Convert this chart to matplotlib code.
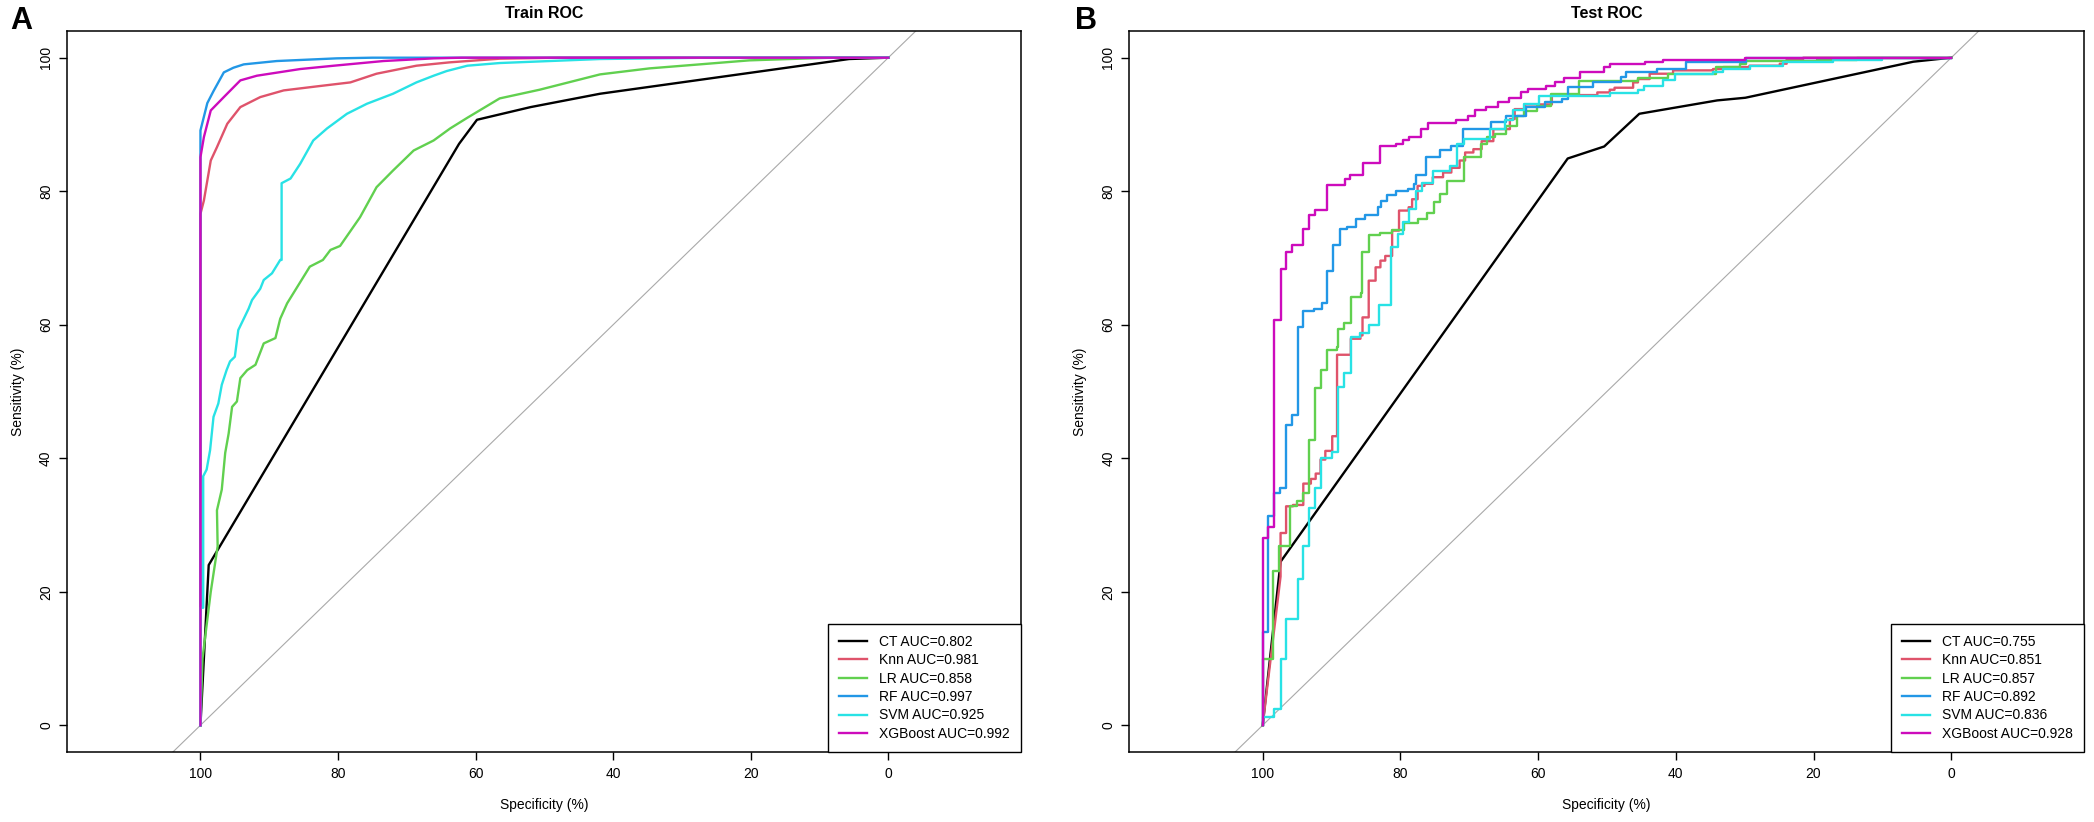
import matplotlib
matplotlib.use('Agg')
import matplotlib.pyplot as plt

plt.rcParams['font.family'] = ['Liberation Sans', 'DejaVu Sans']

# models, colours (R 4 default palette) and AUCs from the legends
models = ['CT', 'Knn', 'LR', 'RF', 'SVM', 'XGBoost']
colors = ['black', '#DF536B', '#61D04F', '#2297E6', '#28E2E5', '#CD0BBC']
train_auc = [0.802, 0.981, 0.858, 0.997, 0.925, 0.992]
test_auc = [0.755, 0.851, 0.857, 0.892, 0.836, 0.928]

# ---- train ROC curves, (specificity %, sensitivity %)
train_ct = [(100, 0), (98.8, 24.0), (62.4, 87.1), (59.8, 90.7), (52.0, 92.6),
            (41.9, 94.6), (5.7, 99.8), (0, 100)]
train_knn = [(100, 0), (100, 76.6), (99.5, 78.6), (98.5, 84.6), (97.6, 86.6),
             (96.1, 90.1), (94.2, 92.6), (91.3, 94.1), (87.9, 95.1), (83.1, 95.7),
             (78.2, 96.3), (74.4, 97.6), (68.6, 98.8), (63.8, 99.3), (56.5, 99.85),
             (48.0, 100), (0, 100)]
train_lr = [(100, 0), (99.7, 10.0), (98.5, 20.0), (97.5, 26.8), (97.6, 32.2),
            (96.9, 35.3), (96.4, 40.8), (95.9, 43.7), (95.4, 47.7), (94.7, 48.5),
            (94.2, 52.0), (93.2, 53.2), (92.0, 54.0), (90.8, 57.2), (89.1, 58.0),
            (88.4, 60.9), (87.4, 63.2), (86.5, 64.7), (85.3, 66.7), (84.1, 68.7),
            (82.2, 69.7), (81.1, 71.2), (79.7, 71.8), (76.8, 76.1), (74.4, 80.6),
            (72.0, 83.1), (69.0, 86.1), (66.1, 87.6), (63.7, 89.4), (61.2, 91.0),
            (56.5, 93.9), (50.7, 95.2), (41.9, 97.5), (34.7, 98.4), (27.4, 99.0),
            (20.2, 99.6), (12.9, 99.85), (8.1, 100), (0, 100)]
train_rf = [(100, 0), (100, 89.1), (99.0, 93.2), (98.1, 95.0), (96.6, 97.8),
            (95.2, 98.5), (93.7, 99.0), (88.9, 99.5), (80.2, 99.9), (75.0, 100),
            (0, 100)]
train_svm = [(100, 0), (100, 17.6), (99.6, 17.6), (99.6, 37.3), (99.1, 38.3),
             (98.6, 41.2), (98.1, 46.2), (97.4, 48.2), (96.9, 51.0), (96.2, 53.2),
             (95.7, 54.5), (95.0, 55.2), (94.5, 59.2), (93.7, 60.9), (93.0, 62.4),
             (92.5, 63.7), (91.3, 65.4), (90.8, 66.7), (89.6, 67.7), (88.4, 69.7),
             (88.2, 69.7), (88.2, 81.2), (86.9, 81.9), (85.5, 84.1), (83.6, 87.6),
             (81.6, 89.4), (78.7, 91.6), (75.8, 93.1), (72.0, 94.6), (68.6, 96.3),
             (66.1, 97.3), (64.2, 98.0), (61.2, 98.8), (56.5, 99.2), (41.9, 99.8),
             (26.0, 100), (0, 100)]
train_xgb = [(100, 0), (100, 85.1), (99.5, 88.1), (98.5, 92.1), (96.6, 94.1),
             (94.2, 96.6), (91.8, 97.3), (85.5, 98.3), (80.6, 98.8), (73.4, 99.5),
             (66.1, 99.9), (62.0, 100), (0, 100)]

# ---- test ROC curves; stepped curves are listed as the top of each vertical run
test_ct = [(100, 0), (97.4, 24.5), (55.7, 84.9), (50.4, 86.7), (45.3, 91.6),
           (34.0, 93.6), (29.9, 94.0), (5.5, 99.4), (0, 100)]
test_knn_lead = [(100, 0)]
test_knn = [(97.4, 22.3), (97.4, 28.8), (96.6, 32.8), (95.6, 33.0), (94.1, 36.2),
            (93.0, 36.9), (92.3, 37.7), (91.6, 39.8), (90.9, 41.1), (89.9, 43.3),
            (89.2, 55.5), (87.2, 57.9), (85.8, 58.4), (85.5, 61.1), (84.6, 66.6),
            (83.6, 68.6), (82.9, 69.6), (82.2, 70.3), (81.2, 74.1), (80.2, 77.1),
            (78.8, 77.6), (78.3, 78.8), (77.5, 80.8), (76.5, 81.1), (75.3, 82.1),
            (73.8, 82.8), (72.6, 83.5), (71.4, 84.6), (70.6, 85.8), (69.4, 86.3),
            (68.2, 87.5), (66.5, 89.3), (64.1, 90.8), (63.4, 92.3), (61.9, 93.0),
            (58.0, 93.5), (58.0, 94.3), (55.7, 94.4), (51.4, 94.8), (49.6, 95.2),
            (48.9, 95.5), (46.2, 96.3), (45.5, 96.8), (43.8, 97.6), (40.4, 98.1),
            (34.6, 98.3), (33.1, 98.6), (29.3, 98.8), (24.9, 99.1), (23.9, 99.8),
            (21.5, 100), (0, 100)]
test_lr = [(100, 0), (100, 9.9), (98.5, 23.1), (97.7, 26.9), (96.0, 27.3),
           (96.0, 32.9), (95.0, 33.6), (94.1, 34.8), (93.3, 42.7), (92.4, 50.5),
           (91.6, 53.2), (90.7, 56.2), (89.2, 56.7), (89.1, 59.4), (88.2, 60.2),
           (87.2, 64.2), (85.7, 64.7), (85.6, 70.9), (84.6, 73.4), (82.9, 73.7),
           (81.2, 74.2), (79.5, 75.2), (77.5, 75.9), (76.1, 76.7), (75.1, 78.4),
           (74.2, 79.6), (73.2, 81.6), (70.8, 85.1), (68.3, 87.1), (67.4, 88.1),
           (66.2, 88.6), (64.7, 89.8), (63.0, 91.3), (62.0, 92.0), (60.1, 92.8),
           (58.1, 93.5), (58.1, 94.5), (54.0, 96.5), (45.5, 97.0), (41.1, 97.6),
           (34.1, 98.6), (30.7, 99.1), (29.8, 99.5), (19.5, 99.6), (13.7, 100),
           (0, 100)]
test_rf = [(100, 0), (100, 13.9), (99.2, 31.3), (98.4, 34.8), (97.5, 35.6),
           (96.6, 45.0), (95.8, 46.5), (94.8, 59.7), (94.1, 62.0), (92.6, 62.4),
           (91.4, 63.2), (90.6, 68.0), (89.8, 71.9), (88.8, 74.4), (87.8, 74.6),
           (86.4, 75.9), (85.2, 76.5), (83.2, 77.6), (82.8, 78.6), (82.0, 79.4),
           (80.6, 80.0), (78.9, 80.4), (78.0, 81.1), (77.7, 82.4), (76.3, 85.1),
           (74.3, 86.1), (72.6, 86.8), (70.9, 89.3), (66.8, 90.3), (64.6, 91.3),
           (61.7, 92.6), (59.0, 93.3), (56.6, 93.8), (55.7, 95.6), (52.0, 96.3),
           (47.9, 97.1), (47.2, 97.8), (42.8, 98.3), (38.5, 99.3), (29.8, 100),
           (0, 100)]
test_svm = [(100, 0), (100, 1.2), (98.3, 2.5), (97.4, 9.9), (96.6, 15.9),
            (94.8, 21.9), (94.1, 26.9), (93.3, 32.6), (92.4, 35.6), (91.6, 40.0),
            (89.9, 41.0), (89.1, 50.7), (88.2, 52.7), (87.2, 58.2), (85.8, 58.7),
            (84.6, 59.9), (83.1, 62.9), (81.4, 71.6), (80.4, 73.6), (79.6, 75.4),
            (78.8, 77.4), (77.8, 80.1), (76.9, 81.3), (75.2, 83.1), (72.8, 83.8),
            (71.8, 87.0), (70.8, 87.8), (67.0, 89.3), (64.8, 90.6), (63.6, 92.1),
            (62.1, 93.0), (59.9, 94.2), (51.5, 94.3), (49.6, 94.7), (45.5, 95.1),
            (44.6, 95.8), (41.9, 96.6), (40.1, 97.6), (34.6, 97.9), (33.1, 98.3),
            (29.3, 98.8), (24.4, 99.3), (17.2, 99.6), (10.0, 100), (0, 100)]
test_xgb = [(100, 0), (100, 28.1), (99.2, 29.7), (98.3, 60.7), (97.4, 68.4),
            (96.6, 70.9), (95.7, 71.9), (94.2, 74.4), (93.2, 76.4), (92.4, 77.2),
            (90.6, 81.0), (88.1, 81.8), (87.3, 82.4), (85.5, 84.2), (83.0, 86.7),
            (80.6, 87.1), (79.6, 87.7), (78.7, 88.1), (77.0, 89.3), (76.0, 90.2),
            (71.9, 90.6), (70.2, 91.3), (69.2, 92.1), (67.5, 92.6), (65.8, 93.3),
            (64.2, 94.0), (62.5, 94.8), (61.5, 95.3), (58.8, 95.8), (57.6, 96.3),
            (56.3, 96.9), (53.9, 97.8), (50.5, 98.6), (49.5, 99.0), (44.5, 99.3),
            (41.8, 99.7), (30.0, 100), (0, 100)]

ticks = [100, 80, 60, 40, 20, 0]


def stairs(points, lead=()):
    # horizontal then vertical between listed corners (ROC staircase)
    xs = [p[0] for p in lead] + [points[0][0]]
    ys = [p[1] for p in lead] + [points[0][1]]
    for (x0, y0), (x1, y1) in zip(points[:-1], points[1:]):
        xs += [x1, x1]
        ys += [y0, y1]
    return xs, ys


def plain(points):
    return [p[0] for p in points], [p[1] for p in points]


def setup_axes(ax, title):
    ax.set_xlim(119.4, -19.3)
    ax.set_ylim(-4, 104)
    ax.plot([125, -25], [-25, 125], color='#A9A9A9', lw=0.8, zorder=1)
    ax.set_xticks(ticks)
    ax.set_xticklabels([str(t) for t in ticks])
    ax.set_yticks(ticks)
    ax.set_yticklabels([str(t) for t in ticks], rotation=90, va='center')
    ax.tick_params(direction='out', length=6, width=1, labelsize=10, pad=5)
    ax.tick_params(axis='y', pad=4)
    for s in ax.spines.values():
        s.set_linewidth(1.1)
    ax.set_xlabel('Specificity (%)', fontsize=10, labelpad=12)
    ax.set_ylabel('Sensitivity (%)', fontsize=10, labelpad=10)
    ax.set_title(title, fontsize=11.5, fontweight='bold', pad=9)


def add_legend(ax, handles, aucs):
    leg = ax.legend(handles, [f'{m} AUC={a:.3f}' for m, a in zip(models, aucs)],
                    loc='lower right', borderaxespad=0, fontsize=10,
                    fancybox=False, framealpha=1, edgecolor='black',
                    handlelength=2.0, handletextpad=0.9, labelspacing=0.32,
                    borderpad=0.8)
    leg.get_frame().set_linewidth(1.0)


fig = plt.figure(figsize=(20.94, 8.22), dpi=100)
ax_a = fig.add_axes([0.0320, 0.0852, 0.4556, 0.8771])
ax_b = fig.add_axes([0.5392, 0.0852, 0.4561, 0.8771])

setup_axes(ax_a, 'Train ROC')
lines_a = []
for pts, c in zip([train_ct, train_knn, train_lr, train_rf, train_svm, train_xgb], colors):
    xs, ys = plain(pts)
    lines_a += ax_a.plot(xs, ys, color=c, lw=1.7, zorder=3)
add_legend(ax_a, lines_a, train_auc)

setup_axes(ax_b, 'Test ROC')
test_paths = [plain(test_ct), stairs(test_knn, test_knn_lead), stairs(test_lr),
              stairs(test_rf), stairs(test_svm), stairs(test_xgb)]
lines_b = []
for (xs, ys), c in zip(test_paths, colors):
    lines_b += ax_b.plot(xs, ys, color=c, lw=1.7, zorder=3)
add_legend(ax_b, lines_b, test_auc)

fig.text(10 / 2094, 1 - 29 / 822, 'A', fontsize=22, fontweight='bold')
fig.text(1075 / 2094, 1 - 29 / 822, 'B', fontsize=22, fontweight='bold')

fig.savefig('out.png', dpi=100)
